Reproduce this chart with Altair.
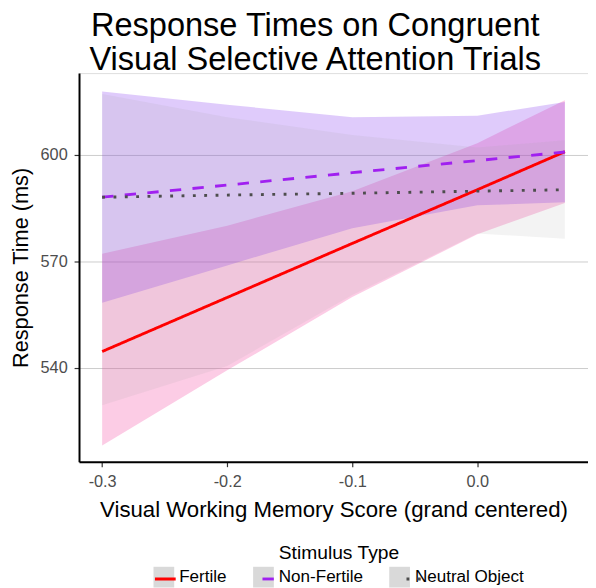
import altair as alt
import pandas as pd

# ---- data ----
x_vals = [-0.3, -0.2, -0.1, 0.0, 0.07]
groups = ["Fertile", "Non-Fertile", "Neutral Object"]

fertile_fit = [544.6, 559.8, 575.0, 590.1, 600.8]
fertile_lo = [518.2, 539.3, 559.9, 577.6, 586.4]
fertile_hi = [572.1, 580.0, 589.7, 603.2, 615.3]

nonfertile_fit = [588.0, 591.4, 594.9, 598.3, 600.7]
nonfertile_lo = [558.3, 568.8, 579.3, 585.7, 586.6]
nonfertile_hi = [617.7, 614.0, 610.5, 610.9, 614.8]

neutral_fit = [588.0, 588.6, 589.1, 589.7, 590.1]
neutral_lo = [529.5, 540.5, 560.5, 577.8, 576.3]
neutral_hi = [617.0, 610.5, 605.5, 602.0, 604.0]

y_ticks = [540, 570, 600]
x_ticks = [-0.3, -0.2, -0.1, 0.0]

line_colors = ["#FF0000", "#A020F0", "#4D4D4D"]
ribbon_colors = ["rgba(245,66,158,0.27)", "rgba(127,47,239,0.25)", "rgba(160,160,160,0.13)"]
key_colors = ["#d9d9d9", "#d9d9d9", "#d9d9d9"]
dashes = [[1, 0], [11.5, 11.5], [2.9, 8.6]]

FONT = "Liberation Sans"

rows = []
for g, fit, lo, hi in zip(groups,
                          [fertile_fit, nonfertile_fit, neutral_fit],
                          [fertile_lo, nonfertile_lo, neutral_lo],
                          [fertile_hi, nonfertile_hi, neutral_hi]):
    for x, f, l, h in zip(x_vals, fit, lo, hi):
        rows.append({"group": g, "x": x, "fit": f, "lo": l, "hi": h})
df = pd.DataFrame(rows)

x_enc = alt.X(
    "x:Q",
    scale=alt.Scale(domain=[-0.3185, 0.0885], nice=False, zero=False),
    axis=alt.Axis(
        values=x_ticks, grid=False,
        labelExpr="replace(format(datum.value, '.1f'), '\u2212', '-')",
        domainColor="black", domainWidth=2,
        tickColor="#333333", tickWidth=1.2, tickSize=5,
        labelPadding=7, labelFontSize=16.5, labelColor="#4d4d4d", labelFont=FONT,
        title="Visual Working Memory Score (grand centered)",
        titleFontSize=22.5, titleFontWeight="normal", titleColor="black", titleFont=FONT,
        titlePadding=9,
    ),
)
y_scale = alt.Scale(domain=[513.6, 622.9], nice=False, zero=False)
y_axis = alt.Axis(
    values=y_ticks, grid=True, gridColor="#cccccc", gridWidth=1,
    domainColor="black", domainWidth=2,
    tickColor="#333333", tickWidth=1.2, tickSize=5,
    labelPadding=7, labelFontSize=16.5, labelColor="#4d4d4d", labelFont=FONT,
    title="Response Time (ms)",
    titleFontSize=22, titleFontWeight="normal", titleColor="black", titleFont=FONT,
    titlePadding=8,
)

common_legend = dict(
    orient="none", legendX=75.5, legendY=478.0, direction="horizontal",
    title="Stimulus Type", titleFontSize=19.5, titleFont=FONT, titleFontWeight="normal",
    titleColor="black", titleAnchor="middle", titlePadding=3,
    labelFontSize=17.3, labelFont=FONT, labelColor="black", labelOffset=5,
    columnPadding=26, padding=0, offset=0, symbolSize=441,
)
# grey key boxes carrying the visible title and labels
legend_keys = alt.Legend(symbolType="square", symbolStrokeWidth=0, symbolOpacity=1,
                         zindex=0, **common_legend)
# line samples drawn on top of the boxes (same layout, its own texts hidden)
legend_lines = alt.Legend(symbolType="stroke", symbolStrokeWidth=2.9,
                          titleOpacity=0, labelOpacity=0, zindex=2, **common_legend)

ribbons = alt.Chart(df).mark_area(fillOpacity=1).encode(
    x=x_enc,
    y=alt.Y("lo:Q", scale=y_scale, axis=y_axis),
    y2="hi:Q",
    fill=alt.Fill("group:N", scale=alt.Scale(domain=groups, range=ribbon_colors), legend=None),
)

# zero-size points: they only provide the grey legend key boxes
keys = alt.Chart(df).mark_point(shape="square", filled=True, size=0).encode(
    x=x_enc,
    y=alt.Y("fit:Q", scale=y_scale, axis=y_axis),
    color=alt.Color("group:N", sort=groups, scale=alt.Scale(range=key_colors), legend=legend_keys),
)

lines = alt.Chart(df).mark_line(strokeWidth=2.9, strokeCap="butt").encode(
    x=x_enc,
    y=alt.Y("fit:Q", scale=y_scale, axis=y_axis),
    stroke=alt.Stroke("group:N", scale=alt.Scale(domain=groups, range=line_colors), legend=legend_lines),
    strokeDash=alt.StrokeDash("group:N", scale=alt.Scale(domain=groups, range=dashes), legend=legend_lines),
)

chart = alt.layer(ribbons, keys, lines).resolve_legend(
    stroke="independent", strokeDash="independent"
).properties(
    width=516, height=394,
    padding={"left": 72, "top": 62, "right": 0, "bottom": 124},
    autosize=alt.AutoSizeParams(type="none"),
    title=alt.TitleParams(
        text=["Response Times on Congruent", " Visual Selective Attention Trials"],
        fontSize=33, font=FONT, fontWeight="normal", color="black",
        anchor="middle", frame="group", dx=-18.5, offset=-3.5, lineHeight=34,
    ),
).configure_view(stroke=None).configure(background="white")

chart.save("out.html", embed_options={"renderer": "svg", "actions": False})
